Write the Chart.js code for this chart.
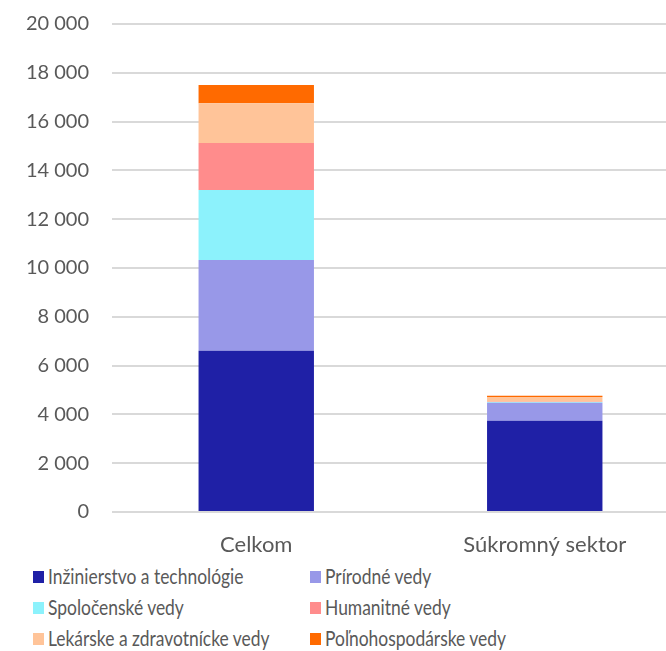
<!DOCTYPE html>
<html>
<head>
<meta charset="utf-8">
<script src="https://cdn.jsdelivr.net/npm/chart.js@4"></script>
<style>
    html, body { margin: 0; padding: 0; background: #fff; overflow: hidden; width: 666px; height: 651px; }
    #wrap { position: absolute; left: 0; top: -11px; width: 690px; height: 571px; }
    #legend { position: absolute; left: 0; top: 560px; width: 666px; font-family: Lato, sans-serif; font-size: 21px; color: #595959; }
    .item { position: absolute; white-space: nowrap; line-height: 20px; }
    .item span.box { position: absolute; left: 0; top: 4px; width: 11px; height: 12px; }
    .item span.txt { position: absolute; left: 15px; top: -1px; transform: scaleX(0.83); transform-origin: 0 0; }
</style>
</head>
<body>
<div id="wrap"><canvas id="chart"></canvas></div>
<div id="legend"></div>
<script>
const categories = ["Celkom", "Súkromný sektor"];
const seriesNames = [
    "Inžinierstvo a technológie",
    "Prírodné vedy",
    "Spoločenské vedy",
    "Humanitné vedy",
    "Lekárske a zdravotnícke vedy",
    "Poľnohospodárske vedy"
];
const inzinierstvo = [6610, 3740];
const prirodne = [3720, 740];
const spolocenske = [2870, 30];
const humanitne = [1920, 10];
const lekarske = [1630, 190];
const polnohospodarske = [750, 50];
const yTicks = [0, 2000, 4000, 6000, 8000, 10000, 12000, 14000, 16000, 18000, 20000];

const colors = ["#1F20A6", "#9898E8", "#8CF2FC", "#FF8C8C", "#FFC499", "#FF6A00"];
const values = [inzinierstvo, prirodne, spolocenske, humanitne, lekarske, polnohospodarske];

const textColor = "#595959";

function fmt(v) {
    return String(v).replace(/\B(?=(\d{3})+(?!\d))/g, " ");
}

const ctx = document.getElementById("chart").getContext("2d");
const chart = new Chart(ctx, {
    type: "bar",
    data: {
        labels: categories,
        datasets: seriesNames.map((name, i) => ({
            label: name,
            data: values[i],
            backgroundColor: colors[i],
            borderWidth: 0,
            barPercentage: 0.4,
            categoryPercentage: 1
        }))
    },
    options: {
        responsive: true,
        maintainAspectRatio: false,
        animation: false,
        layout: { padding: { top: 13, right: 1, left: 0, bottom: 0 } },
        plugins: {
            legend: { display: false },
            tooltip: { enabled: false }
        },
        scales: {
            x: {
                stacked: true,
                grid: { display: false, drawTicks: false },
                border: { display: false },
                ticks: { color: textColor, font: { family: "Lato, sans-serif", size: 22 }, padding: 20 },
                afterFit: s => { s.height = 48; }
            },
            y: {
                stacked: true,
                min: 0,
                max: 20000,
                afterBuildTicks: s => { s.ticks = yTicks.map(v => ({ value: v })); },
                grid: { color: "#d9d9d9", lineWidth: 2, drawTicks: false },
                border: { display: false },
                ticks: { color: textColor, font: { family: "Lato, sans-serif", size: 20 }, padding: 23, callback: v => fmt(v) },
                afterFit: s => { s.width = 112; }
            }
        }
    }
});

// legend in two columns, built from the chart's datasets
const legend = document.getElementById("legend");
const colX = [33, 310];
const rowY = [7, 38, 69];
chart.data.datasets.forEach((ds, i) => {
    const el = document.createElement("div");
    el.className = "item";
    el.style.left = colX[i % 2] + "px";
    el.style.top = rowY[Math.floor(i / 2)] + "px";
    el.innerHTML = `<span class="box" style="background:${ds.backgroundColor}"></span><span class="txt">${ds.label}</span>`;
    legend.appendChild(el);
});
</script>
</body>
</html>
